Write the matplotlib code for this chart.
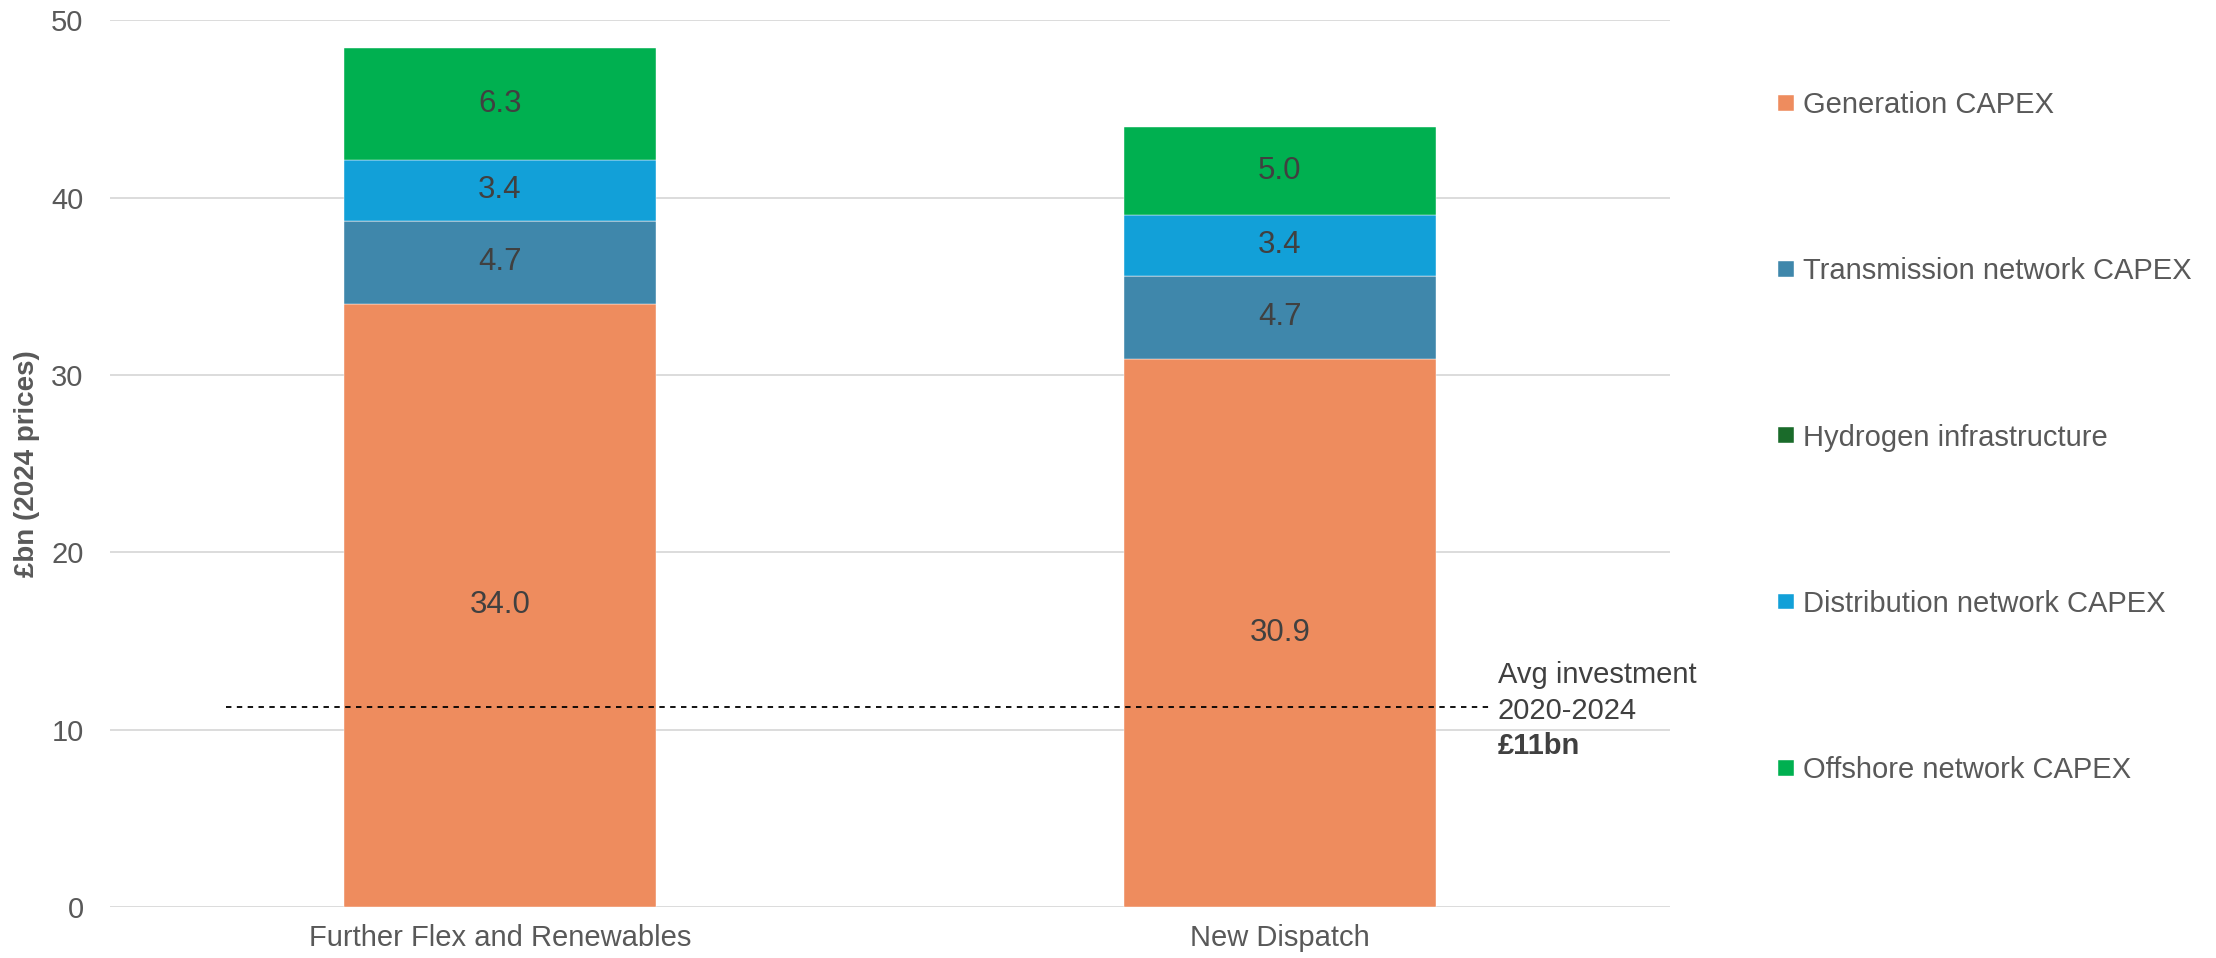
import matplotlib.pyplot as plt
import numpy as np

plt.rcParams['font.family'] = ['Liberation Sans', 'DejaVu Sans']

scenarios = ["Further Flex and Renewables", "New Dispatch"]
series = ["Generation CAPEX", "Transmission network CAPEX", "Hydrogen infrastructure",
          "Distribution network CAPEX", "Offshore network CAPEX"]
generation = [34.0, 30.9]
transmission = [4.7, 4.7]
hydrogen = [0.0, 0.0]
distribution = [3.4, 3.4]
offshore = [6.3, 5.0]
colors = ["#EE8C5E", "#3F87AB", "#1A6B2A", "#12A0D8", "#00B050"]
avg_invest = 11.3

fig = plt.figure(figsize=(22.16, 9.58), dpi=100)
ax = fig.add_axes([0.0496, 0.0532, 0.704, 0.9258])

x = np.arange(len(scenarios))
bottom = np.zeros(len(scenarios))
handles = []
for vals, col, name in zip([generation, transmission, hydrogen, distribution, offshore], colors, series):
    vals = np.array(vals)
    b = ax.bar(x, vals, 0.4, bottom=bottom, color=col, label=name, zorder=2,
               edgecolor='white', linewidth=0.3)
    handles.append(b)
    for xi, v, bt in zip(x, vals, bottom):
        if v > 0:
            ax.text(xi, bt + v / 2, f"{v:.1f}", ha='center', va='center',
                    fontsize=22.5, color='#404040', zorder=3)
    bottom += vals

ax.plot([-0.351, 1.27], [avg_invest, avg_invest], ls=(0, (3, 3)), color='black', lw=1.3, zorder=4)
ax.text(1.279, 13.1, "Avg investment", fontsize=21, color='#404040', va='center')
ax.text(1.279, 11.05, "2020-2024", fontsize=21, color='#404040', va='center')
ax.text(1.279, 9.1, "£11bn", fontsize=21, color='#404040', va='center', fontweight='bold')

ax.set_xlim(-0.5, 1.5)
ax.set_ylim(0, 50)
ax.set_yticks([0, 10, 20, 30, 40, 50])
ax.set_xticks(x)
ax.set_xticklabels(scenarios)
ax.yaxis.grid(True, color='#D9D9D9', lw=1.3, zorder=0)
ax.set_axisbelow(True)
for s in ax.spines.values():
    s.set_visible(False)
ax.tick_params(axis='both', length=0, labelsize=21, labelcolor='#595959')
ax.tick_params(axis='y', pad=19)
ax.tick_params(axis='x', pad=12)
ax.set_ylabel("£bn (2024 prices)", fontsize=20, fontweight='bold', color='#595959',
              family=['Liberation Sans Narrow', 'Liberation Sans'], labelpad=8)

fig.legend(handles, series, loc='upper left', bbox_to_anchor=(0.797, 0.917), frameon=False,
           fontsize=21, labelcolor='#595959', handlelength=0.55, handleheight=0.45,
           handletextpad=0.3, labelspacing=4.74, borderaxespad=0)

fig.savefig("out.png", dpi=100)
